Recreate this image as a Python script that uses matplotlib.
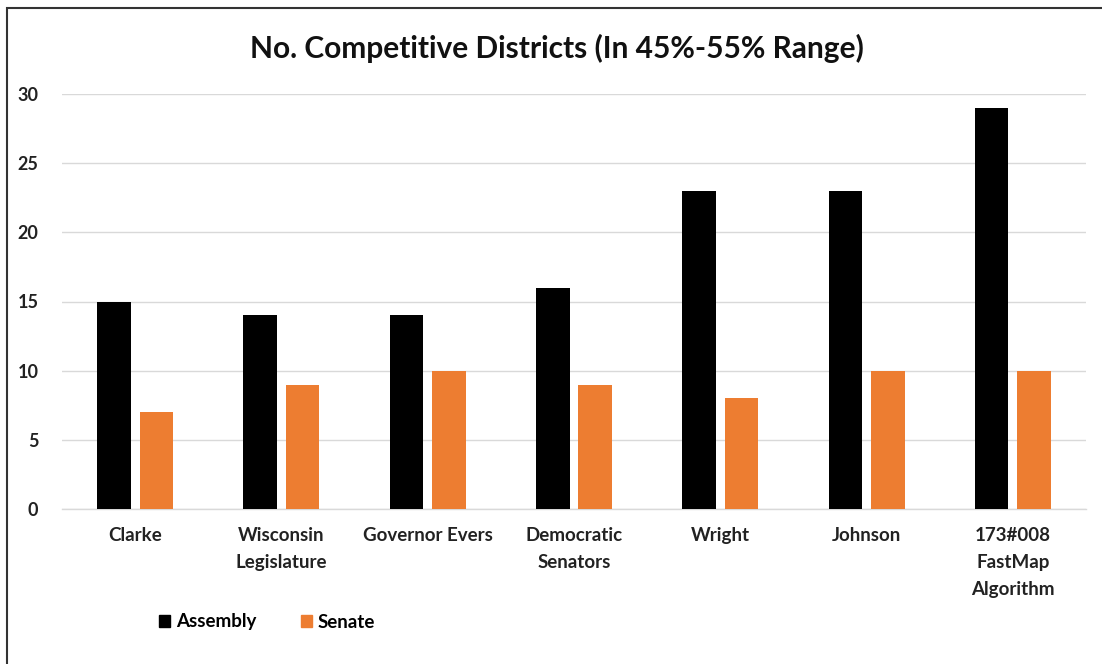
import matplotlib
matplotlib.use("Agg")
import matplotlib.pyplot as plt
import numpy as np
from matplotlib.patches import Rectangle, Patch

categories = ["Clarke", "Wisconsin\nLegislature", "Governor Evers", "Democratic\nSenators",
              "Wright", "Johnson", "173#008\nFastMap\nAlgorithm"]
assembly = [15, 14, 14, 16, 23, 23, 29]
senate = [7, 9, 10, 9, 8, 10, 10]
yticks = [0, 5, 10, 15, 20, 25, 30]
title = "No. Competitive Districts (In 45%-55% Range)"

plt.rcParams['font.family'] = ['Lato', 'DejaVu Sans']

fig = plt.figure(figsize=(11.02, 6.64), dpi=100)
ax = fig.add_axes([62/1102, 1-509/664, (1086-62)/1102, (509-94)/664])

x = np.arange(len(categories))
w = 0.23
off = 0.145
ax.bar(x - off, assembly, w, color="#000000", label="Assembly", zorder=3)
ax.bar(x + off, senate, w, color="#ED7D31", label="Senate", zorder=3)

ax.set_xlim(-0.5, len(categories) - 0.5)
ax.set_ylim(0, 30)
ax.set_yticks(yticks)
ax.set_yticklabels([str(t) for t in yticks], fontsize=13, fontweight="bold", color="#222222")
ax.set_xticks(x)
ax.set_xticklabels(categories, fontsize=13.5, fontweight="bold", color="#222222", linespacing=1.7)
ax.tick_params(axis="both", length=0)
ax.tick_params(axis="x", pad=13)
ax.tick_params(axis="y", pad=17)
ax.grid(axis="y", color="#d9d9d9", linewidth=1, zorder=0)
for s in ["left", "right", "top"]:
    ax.spines[s].set_visible(False)
ax.spines["bottom"].set_color("#d9d9d9")
ax.spines["bottom"].set_linewidth(1)

fig.text(557/1102, 1-48/664, title, ha="center", va="center", fontsize=21.5, fontweight="bold", color="#111111")

handles = [Patch(color="#000000", label="Assembly"), Patch(color="#ED7D31", label="Senate")]
fig.legend(handles=handles, loc="center left", bbox_to_anchor=(142/1102, 1-622/664), ncol=2,
           frameon=False, handlelength=0.6, handleheight=0.6, handletextpad=0.3, columnspacing=2.4,
           prop={"weight": "bold", "size": 13.5})

rect = Rectangle((7/1102, -0.1), 1.2, 1 - 8/664 + 0.1, transform=fig.transFigure,
                 fill=False, edgecolor="#333333", linewidth=1.5)
fig.patches.append(rect)

fig.savefig("out.png", dpi=100)
